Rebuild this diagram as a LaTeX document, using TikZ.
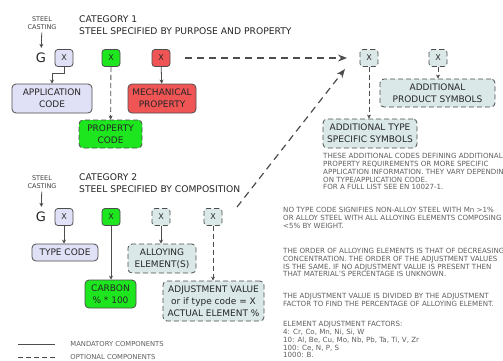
\documentclass[tikz,border=0pt]{standalone}
\usepackage{fontspec}
\setmainfont{DejaVu Sans}
\usetikzlibrary{arrows.meta}

\definecolor{lavfill}{RGB}{224,224,246}
\definecolor{grnfill}{RGB}{30,230,30}
\definecolor{redfill}{RGB}{240,85,85}
\definecolor{tealfill}{RGB}{218,232,232}
\definecolor{edge}{RGB}{77,77,77}
\definecolor{notegrey}{RGB}{95,95,95}

\begin{document}
\begin{tikzpicture}[x=1pt,y=-1pt,
		xbox/.style={draw=edge, line width=0.8pt, rounded corners=3pt, minimum width=18pt, minimum height=17pt, inner sep=0pt, font=\fontsize{8}{9}\selectfont, text=black!85},
		codebox/.style={draw=edge, line width=0.8pt, rounded corners=4pt, align=center, inner sep=0pt, font=\fontsize{9}{12}\selectfont, text=black!85},
		optional/.style={dash pattern=on 5pt off 3pt},
		link/.style={draw=edge, line width=0.8pt, -{Stealth[length=4pt,width=4pt]}},
		jump/.style={draw=edge, line width=1.2pt, dash pattern=on 7pt off 5pt, -{Stealth[length=9pt,width=7pt]}},
		heading/.style={anchor=north west, align=left, inner sep=0pt, font=\fontsize{9.2}{12}\selectfont, text=black!85},
		casting/.style={align=center, inner sep=0pt, font=\fontsize{6.5}{8}\selectfont, text=black!75},
		gletter/.style={inner sep=0pt, font=\fontsize{13}{13}\selectfont, text=black!85},
		note/.style={anchor=north west, align=left, inner sep=0pt, font=\fontsize{7.1}{7.8}\selectfont, text=notegrey},
		legendtext/.style={anchor=west, inner sep=0pt, font=\fontsize{6.8}{8}\selectfont, text=notegrey}]
	\clip (0,0) rectangle (503,360);
	\fill[white] (0,0) rectangle (503,360);

	% category 1
	\node[heading] (cat1) at (79,15.5) {CATEGORY 1\\STEEL SPECIFIED BY PURPOSE AND PROPERTY};
	\node[casting] (cast1) at (42,23) {STEEL\\CASTING};
	\node[gletter] (g1) at (41,58) {G};
	\node[xbox, fill=lavfill] (a1) at (64,58) {X};
	\node[xbox, fill=grnfill] (p1) at (111,58) {X};
	\node[xbox, fill=redfill] (m1) at (161,58) {X};
	\node[codebox, fill=lavfill, minimum width=80pt, minimum height=29pt] (app) at (52,98.5) {APPLICATION\\CODE};
	\node[codebox, fill=redfill, minimum width=68pt, minimum height=29pt] (mech) at (162,98.5) {MECHANICAL\\PROPERTY};
	\node[codebox, optional, fill=grnfill, minimum width=63pt, minimum height=28pt] (prop) at (110.5,134) {PROPERTY\\CODE};
	\draw[link, shorten <=3pt, shorten >=5pt] (cast1) -- (g1);
	\draw[link] (a1.south) -- ++(0,6) -| (app.north);
	\draw[link, optional] (p1) -- (prop);
	\draw[link] (m1) -- (mech);

	% additional symbols
	\node[xbox, optional, fill=tealfill] (t1) at (369,58) {X};
	\node[xbox, optional, fill=tealfill] (s1) at (438,58) {X};
	\node[codebox, optional, fill=tealfill, minimum width=115pt, minimum height=28pt] (prod) at (437.5,93) {ADDITIONAL\\PRODUCT SYMBOLS};
	\node[codebox, optional, fill=tealfill, minimum width=94pt, minimum height=29pt] (typ) at (370,133.5) {ADDITIONAL TYPE\\SPECIFIC SYMBOLS};
	\draw[link, optional] (t1.south) -- (t1.south |- typ.north);
	\draw[link, optional] (s1.south) -- (s1.south |- prod.north);
	\coordinate (meet1) at (347,58);
	\coordinate (meet2) at (345,69);
	\coordinate (tail2) at (237,207);
	\draw[jump] ([xshift=15pt]m1.east) -- (meet1);
	\draw[jump] (tail2) -- (meet2);

	% category 2
	\node[heading] (cat2) at (79,173.5) {CATEGORY 2\\STEEL SPECIFIED BY COMPOSITION};
	\node[casting] (cast2) at (42,182) {STEEL\\CASTING};
	\node[gletter] (g2) at (41,217) {G};
	\node[xbox, fill=lavfill] (a2) at (64,217) {X};
	\node[xbox, fill=grnfill] (c2) at (111,217) {X};
	\node[xbox, optional, fill=tealfill] (e2) at (161,217) {X};
	\node[xbox, optional, fill=tealfill] (v2) at (213,217) {X};
	\node[codebox, fill=lavfill, minimum width=66pt, minimum height=17pt] (tcode) at (65,252.5) {TYPE CODE};
	\node[codebox, optional, fill=tealfill, minimum width=68pt, minimum height=29pt] (alloy) at (162,258.5) {ALLOYING\\ELEMENT(S)};
	\node[codebox, fill=grnfill, minimum width=51pt, minimum height=28pt] (carbon) at (110.5,294) {CARBON\\\% * 100};
	\node[codebox, optional, fill=tealfill, minimum width=101pt, minimum height=40pt] (adjust) at (213.5,301) {ADJUSTMENT VALUE\\or if type code = X\\ACTUAL ELEMENT \%};
	\draw[link, shorten <=3pt, shorten >=5pt] (cast2) -- (g2);
	\draw[link] (a2.south) -- (a2.south |- tcode.north);
	\draw[link] (c2.south) -- (c2.south |- carbon.north);
	\draw[link] (e2.south) -- (e2.south |- alloy.north);
	\draw[link, optional] (v2.south) -- (v2.south |- adjust.north);

	% notes
	\node[note] (n1) at (323,153.3) {THESE ADDITIONAL CODES DEFINING ADDITIONAL\\PROPERTY REQUIREMENTS OR MORE SPECIFIC\\APPLICATION INFORMATION. THEY VARY DEPENDING\\ON TYPE/APPLICATION CODE.\\FOR A FULL LIST SEE EN 10027-1.};
	\node[note] (n2) at (283,207.5) {NO TYPE CODE SIGNIFIES NON-ALLOY STEEL WITH Mn >1\%\\OR ALLOY STEEL WITH ALL ALLOYING ELEMENTS COMPOSING\\<5\% BY WEIGHT.};
	\node[note] (n3) at (283,248) {THE ORDER OF ALLOYING ELEMENTS IS THAT OF DECREASING\\CONCENTRATION. THE ORDER OF THE ADJUSTMENT VALUES\\IS THE SAME. IF NO ADJUSTMENT VALUE IS PRESENT THEN\\THAT MATERIAL'S PERCENTAGE IS UNKNOWN.};
	\node[note] (n4) at (283,293.3) {THE ADJUSTMENT VALUE IS DIVIDED BY THE ADJUSTMENT\\FACTOR TO FIND THE PERCENTAGE OF ALLOYING ELEMENT.};
	\node[note] (n5) at (283,321.3) {ELEMENT ADJUSTMENT FACTORS:\\4: Cr, Co, Mn, Ni, Si, W\\10: Al, Be, Cu, Mo, Nb, Pb, Ta, Ti, V, Zr\\100: Ce, N, P, S\\1000: B.};

	% legend
	\draw[draw=edge, line width=0.8pt] (18,344) -- (55,344) node[legendtext, xshift=15pt] (mand) {MANDATORY COMPONENTS};
	\draw[draw=edge, line width=0.8pt, optional] (18,357) -- (55,357) node[legendtext, xshift=15pt] (opt) {OPTIONAL COMPONENTS};
\end{tikzpicture}
\end{document}
